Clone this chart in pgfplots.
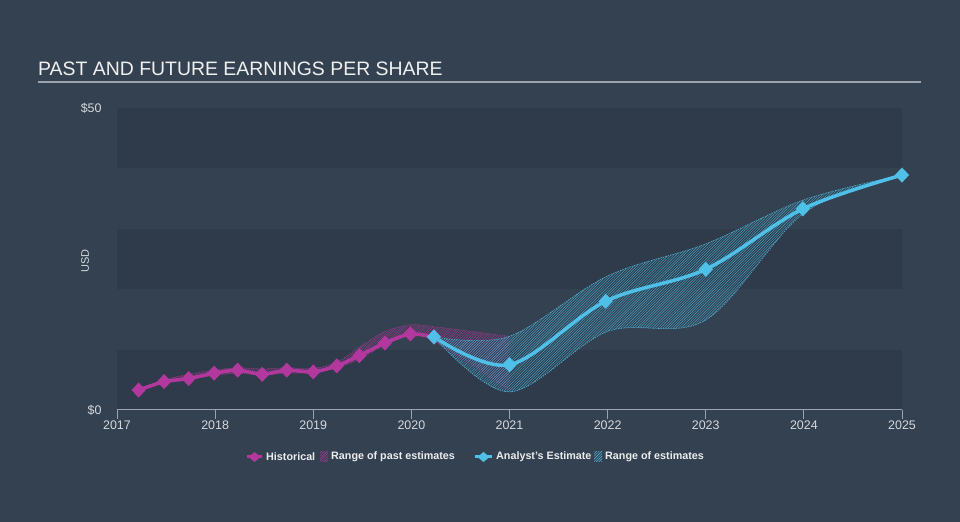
\documentclass[border=0pt]{standalone}
\usepackage{pgfplots}
\pgfplotsset{compat=1.18}
\usepgfplotslibrary{fillbetween}
\usetikzlibrary{patterns}
\usepackage{pgfplotstable}
\usepackage{fontspec}
\setmainfont{Liberation Sans}

\definecolor{bg}{HTML}{344150}
\definecolor{band}{HTML}{2F3B4A}
\definecolor{histc}{HTML}{B3389E}
\definecolor{estc}{HTML}{4FC0E8}
\definecolor{txt}{HTML}{D5D9DE}
\definecolor{axline}{HTML}{9AA3AE}

\pgfdeclarepatternformonly{hatch}{\pgfqpoint{-1pt}{-1pt}}{\pgfqpoint{3.6pt}{3.6pt}}{\pgfqpoint{2.6pt}{2.6pt}}{
  \pgfsetlinewidth{0.45pt}
  \pgfpathmoveto{\pgfqpoint{0pt}{0pt}}
  \pgfpathlineto{\pgfqpoint{2.7pt}{2.7pt}}
  \pgfusepath{stroke}}

% historical EPS
\pgfplotstableread{
x       y
2017.22 3.3
2017.48 4.7
2017.73 5.2
2017.99 6.1
2018.23 6.6
2018.48 5.9
2018.73 6.6
2019.00 6.3
2019.24 7.3
2019.47 9.0
2019.73 11.1
2019.99 12.6
2020.23 12.1
}\histtab

% range of past estimates
\pgfplotstableread{
x       hi    lo
2017.22 3.4   3.2
2017.48 5.0   4.6
2017.73 5.9   5.1
2017.99 6.6   5.7
2018.23 7.0   6.1
2018.48 6.8   5.8
2018.73 7.0   6.1
2019.00 6.9   6.2
2019.24 7.9   7.0
2019.47 10.4  8.4
2019.73 13.0  10.8
2019.99 14.1  12.3
2020.23 13.8  11.4
2021.00 12.2  3.3
}\pasttab

% analyst estimates
\pgfplotstableread{
x       y
2020.23 12.1
2021.00 7.5
2021.98 18.0
2023.00 23.3
2023.99 33.3
2025.00 38.9
}\esttab

% range of estimates
\pgfplotstableread{
x       hi    lo
2020.23 12.1  12.1
2021.00 12.2  3.0
2022.00 22.2  13.0
2023.00 27.5  14.9
2024.00 34.8  32.6
2025.00 38.9  38.9
}\rangetab

\begin{document}
\pagecolor{bg}%
\begin{tikzpicture}
% title
\node[anchor=base west, inner sep=0pt, text=white!92!bg, font=\fontsize{19.5}{22}\selectfont] at (38bp,446bp) {PAST AND FUTURE EARNINGS PER SHARE};
\draw[axline, line width=1.5bp] (38bp,440bp) -- (921bp,440bp);
\node[rotate=90, inner sep=0pt, text=txt, font=\fontsize{11}{13}\selectfont] at (85bp,261bp) {USD};

\begin{axis}[
  at={(117bp,112bp)}, anchor=south west,
  scale only axis, width=785bp, height=302bp,
  xmin=2017, xmax=2025, ymin=0, ymax=50,
  clip=false,
  axis x line*=bottom, axis y line*=left,
  y axis line style={draw=none},
  x axis line style={axline, line width=1bp},
  xtick={2017,2018,2019,2020,2021,2022,2023,2024,2025},
  ytick={0,50}, yticklabels={\$0,\$50},
  minor ytick={5,25,45},
  yminorgrids=true,
  minor grid style={band, line width=60.4bp},
  ytick style={draw=none},
  minor tick length=0pt,
  xtick style={axline, line width=1bp},
  tick align=outside, major tick length=9bp,
  /pgf/number format/1000 sep={},
  /pgf/number format/assume math mode=true,
  tick label style={text=txt, font=\fontsize{12.5}{14}\selectfont},
  xticklabel style={yshift=2bp},
  yticklabel style={xshift=-3bp},
]
% past range
\addplot[name path=ph, draw=histc!75!bg, line width=0.5bp, dash pattern=on 1.5bp off 1bp, smooth, tension=0.5] table[x=x,y=hi] {\pasttab};
\addplot[name path=pl, draw=histc!75!bg, line width=0.5bp, dash pattern=on 1.5bp off 1bp, smooth, tension=0.5] table[x=x,y=lo] {\pasttab};
\addplot[pattern=hatch, pattern color=histc!80!bg] fill between[of=ph and pl];
% estimate range
\addplot[name path=eh, draw=estc!85!bg, line width=0.6bp, dash pattern=on 1.5bp off 1bp, smooth, tension=0.55] table[x=x,y=hi] {\rangetab};
\addplot[name path=el, draw=estc!85!bg, line width=0.6bp, dash pattern=on 1.5bp off 1bp, smooth, tension=0.55] table[x=x,y=lo] {\rangetab};
\addplot[pattern=hatch, pattern color=estc!75!bg] fill between[of=eh and el];
% lines
\addplot[histc, line width=3.5bp, smooth, tension=0.4, mark=diamond*, mark size=5bp, mark options={xscale=1.25}] table[x=x,y=y] {\histtab};
\addplot[estc, line width=3.5bp, smooth, tension=0.55, mark=diamond*, mark size=5bp, mark options={xscale=1.25}] table[x=x,y=y] {\esttab};
\end{axis}

% legend
\begin{scope}[font=\bfseries\fontsize{10.8}{13}\selectfont, text=white!90!bg]
\draw[histc, line width=3bp] (247bp,65bp) -- (262bp,65bp);
\fill[histc] (254.5bp,70bp) -- (260.5bp,65bp) -- (254.5bp,60bp) -- (248.5bp,65bp) -- cycle;
\node[anchor=west, inner sep=0pt] at (266bp,65bp) {Historical};
\fill[pattern=hatch, pattern color=histc] (320bp,60bp) rectangle (328bp,70bp);
\node[anchor=west, inner sep=0pt] at (331bp,65bp) {Range of past estimates};
\draw[estc, line width=3bp] (475bp,65bp) -- (492bp,65bp);
\fill[estc] (483.5bp,70bp) -- (489.5bp,65bp) -- (483.5bp,60bp) -- (477.5bp,65bp) -- cycle;
\node[anchor=west, inner sep=0pt] at (496bp,65bp) {Analyst's Estimate};
\fill[pattern=hatch, pattern color=estc] (594bp,60bp) rectangle (602bp,70bp);
\node[anchor=west, inner sep=0pt] at (605bp,65bp) {Range of estimates};
\end{scope}
\pgfresetboundingbox
\path (0bp,0bp) rectangle (960bp,522bp);
\end{tikzpicture}%
\end{document}
